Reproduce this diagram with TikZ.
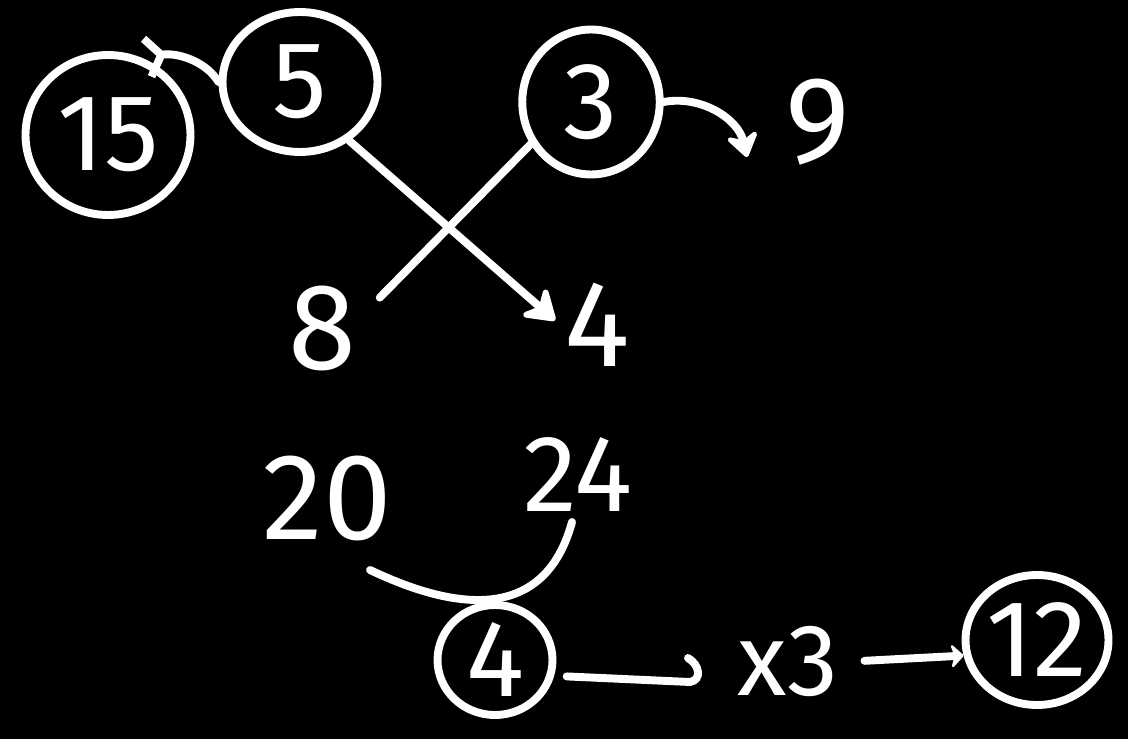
\documentclass[tikz,border=0pt]{standalone}
\usepackage{fontspec}
\setmainfont{Fira Sans}
\usetikzlibrary{shapes.geometric,arrows.meta}

\begin{document}
\begin{tikzpicture}[
  x=0.02cm, y=-0.02cm,
  every node/.style={text=white},
  num/.style={font=\fontsize{70}{70}\selectfont, inner sep=2pt},
  ring/.style={draw=white, ellipse, line width=4.5pt, inner sep=0pt,
               font=\fontsize{62}{62}\selectfont},
  wire/.style={draw=white, line width=4.5pt, line cap=round},
  arr/.style={wire, -{Stealth[round, length=20pt, width=26pt]}},
  barb/.style={wire, {Straight Barb[reversed, length=8pt, width=22pt]}-}
]

%% background
\fill[black] (0,0) rectangle (1128,739);

%% top row
\node[ring, minimum width=3.3cm, minimum height=3.2cm] (r15) at (108,135) {15};
\node[ring, minimum width=3.1cm, minimum height=2.8cm] (r5)  at (300,82)  {5};
\node[ring, minimum width=2.75cm, minimum height=2.9cm] (r3) at (591,102) {3};
\node[num] (n9) at (818,122) {9};

%% crossing lines
\node[num] (n8) at (322,328) {8};
\node[num] (n4) at (597,325) {4};

%% bottom part
\node[num] (n20) at (327,498) {20};
\node[num, font=\fontsize{62}{62}\selectfont] (n24) at (578,475) {24};
\node[ring, minimum width=2.3cm, minimum height=2.2cm] (r4)  at (495,660) {4};
\node[num, font=\fontsize{58}{58}\selectfont] (nx3) at (788,662) {x3};
\node[ring, minimum width=2.7cm, minimum height=2.6cm] (r12) at (1037,640) {12};

\coordinate (t9)  at (747,157);
\coordinate (c20) at (370,570);
\coordinate (c24) at (572,522);
\coordinate (hk)  at (690,682);

%% 15 -> 5
\draw[barb] (r15.65) .. controls (175,52) and (205,60) .. (r5.west);

%% 3 -> 9
\draw[arr, -{Stealth[round, length=16pt, width=22pt]}]
  (r3.east) .. controls (700,95) and (738,118) .. (t9);

%% 5 -> 4 and 3 -- 8
\draw[arr, shorten >=4pt] (r5.-50) -- (n4.west);
\draw[wire] (r3.215) -- ([shift={(20,16)}]n8.north east);

%% 20, 24 -> 4
\draw[wire] (c20) .. controls (425,596) and (540,640) .. (c24);

%% 4 -> x3 -> 12
\draw[wire, shorten <=0.25cm] (r4.-15) -- (hk)
  .. controls (702,680) and (700,665) .. (688,658);
\draw[wire, shorten <=0.45cm, -{Stealth[round, length=8pt, width=16pt]}]
  (nx3.east) -- (r12.192);

\end{tikzpicture}
\end{document}
